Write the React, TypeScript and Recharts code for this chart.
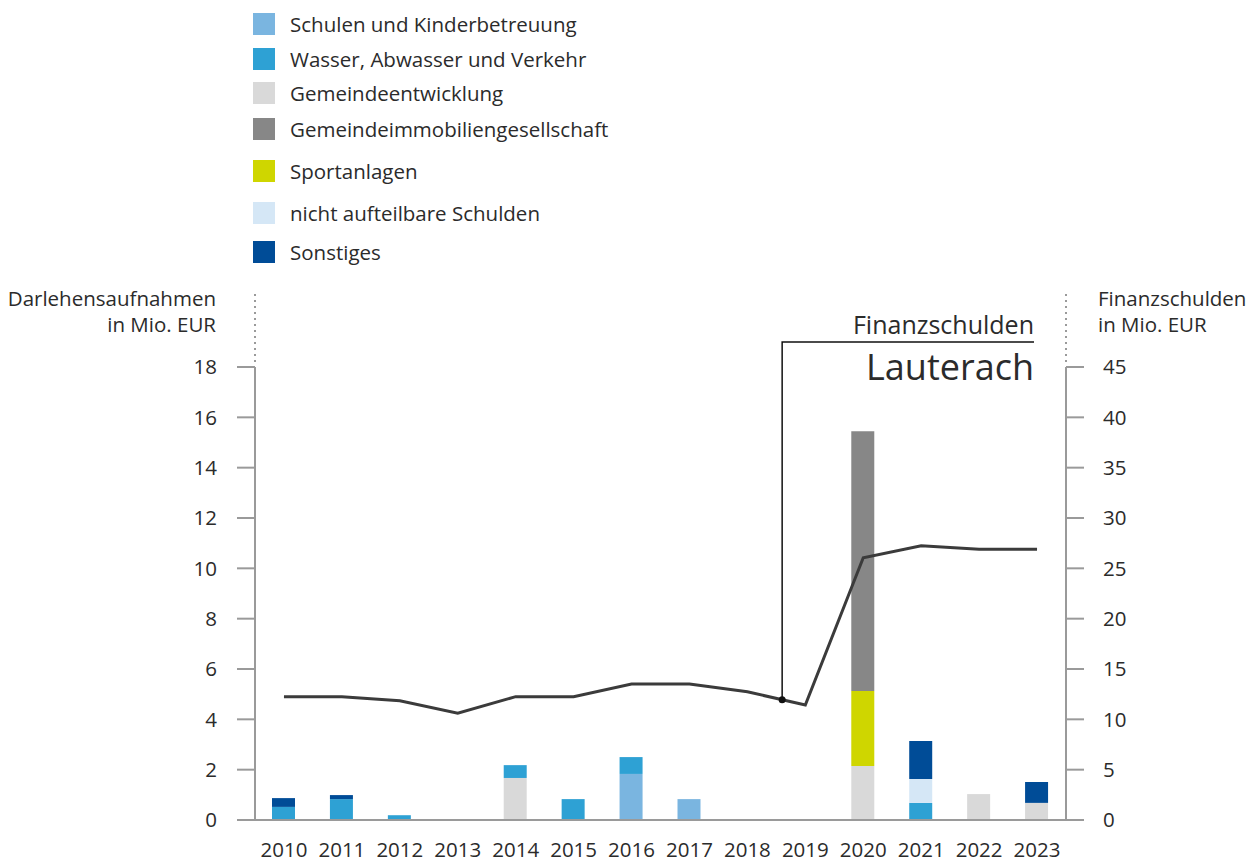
import React from 'react'
import { ComposedChart, Bar, Line, XAxis, YAxis } from 'recharts'

const years = ['2010', '2011', '2012', '2013', '2014', '2015', '2016', '2017', '2018', '2019', '2020', '2021', '2022', '2023']

const schulen = [0, 0, 0, 0, 0, 0, 1.83, 0.83, 0, 0, 0, 0, 0, 0]
const wasser = [0.52, 0.83, 0.19, 0, 0.51, 0.83, 0.67, 0, 0, 0, 0, 0.68, 0, 0]
const gemeindeentwicklung = [0, 0, 0, 0, 1.67, 0, 0, 0, 0, 0, 2.15, 0, 1.03, 0.68]
const immobilien = [0, 0, 0, 0, 0, 0, 0, 0, 0, 0, 10.32, 0, 0, 0]
const sport = [0, 0, 0, 0, 0, 0, 0, 0, 0, 0, 2.98, 0, 0, 0]
const nichtAufteilbar = [0, 0, 0, 0, 0, 0, 0, 0, 0, 0, 0, 0.95, 0, 0]
const sonstiges = [0.35, 0.16, 0, 0, 0, 0, 0, 0, 0, 0, 0, 1.51, 0, 0.83]
const finanzschulden = [12.25, 12.25, 11.85, 10.6, 12.25, 12.25, 13.5, 13.5, 12.74, 11.42, 26.05, 27.25, 26.9, 26.9]

const leftTicks = [0, 2, 4, 6, 8, 10, 12, 14, 16, 18]
const rightTicks = [0, 5, 10, 15, 20, 25, 30, 35, 40, 45]

// legend order
const series = [
  { key: 'schulen', name: 'Schulen und Kinderbetreuung', color: '#7ab5e0', values: schulen },
  { key: 'wasser', name: 'Wasser, Abwasser und Verkehr', color: '#2ea1d4', values: wasser },
  { key: 'gemeindeentwicklung', name: 'Gemeindeentwicklung', color: '#d9d9d9', values: gemeindeentwicklung },
  { key: 'immobilien', name: 'Gemeindeimmobiliengesellschaft', color: '#878787', values: immobilien },
  { key: 'sport', name: 'Sportanlagen', color: '#cfd600', values: sport },
  { key: 'nicht', name: 'nicht aufteilbare Schulden', color: '#d5e7f6', values: nichtAufteilbar },
  { key: 'sonstiges', name: 'Sonstiges', color: '#004c97', values: sonstiges },
]
// stacking order, bottom to top
const stackOrder = ['gemeindeentwicklung', 'schulen', 'wasser', 'sport', 'immobilien', 'nicht', 'sonstiges']
const legendTops = [13, 48, 82, 118, 160, 202, 241]

const data = years.map((year, i) => {
  const row: Record<string, number | string> = { year, schulden: finanzschulden[i] }
  series.forEach((s) => { row[s.key] = s.values[i] })
  return row
})

const font = '"Open Sans", sans-serif'
const textColor = '#2b2b2b'
const axisColor = '#9a9a9a'
const fs = 20.5

// plot geometry
const W = 1255
const H = 864
const plotLeft = 255
const plotRight = 1066
const plotTop = 367
const plotBottom = 820
const band = (plotRight - plotLeft) / years.length

// callout anchor, between 2018 and 2019 on the line
const calloutIdx = 8
const calloutFrac = 0.6
const calloutX = plotLeft + band * (calloutIdx + 0.5 + calloutFrac)
const calloutVal = finanzschulden[calloutIdx] + calloutFrac * (finanzschulden[calloutIdx + 1] - finanzschulden[calloutIdx])
const calloutY = plotBottom - (calloutVal / 45) * (plotBottom - plotTop)

const tickStyle = { fill: textColor, fontSize: fs, fontFamily: font }

export default function App() {
  return (
    <div style={{ position: 'absolute', left: 0, top: 0, width: W, height: H, background: '#fff' }}>
      <ComposedChart
        width={W}
        height={H}
        data={data}
        margin={{ top: plotTop, right: 0, bottom: 0, left: 0 }}
        barSize={23}
      >
        <XAxis
          dataKey="year"
          tick={tickStyle}
          tickLine={false}
          axisLine={{ stroke: axisColor, strokeWidth: 2 }}
          tickMargin={16}
          height={H - plotBottom}
          interval={0}
        />
        <YAxis
          yAxisId="left"
          domain={[0, 18]}
          ticks={leftTicks}
          width={plotLeft}
          tick={tickStyle}
          tickSize={18}
          tickMargin={20}
          tickLine={{ stroke: axisColor, strokeWidth: 2 }}
          axisLine={{ stroke: axisColor, strokeWidth: 2 }}
          interval={0}
        />
        <YAxis
          yAxisId="right"
          orientation="right"
          domain={[0, 45]}
          ticks={rightTicks}
          width={W - plotRight}
          tick={{ ...tickStyle, textAnchor: 'start' }}
          tickSize={18}
          tickMargin={19}
          tickLine={{ stroke: axisColor, strokeWidth: 2 }}
          axisLine={{ stroke: axisColor, strokeWidth: 2 }}
          interval={0}
        />
        {stackOrder.map((key) => {
          const s = series.find((x) => x.key === key)!
          return <Bar key={key} dataKey={key} name={s.name} stackId="a" yAxisId="left" fill={s.color} isAnimationActive={false} />
        })}
        <Line
          dataKey="schulden"
          yAxisId="right"
          type="linear"
          stroke="#3b3b3b"
          strokeWidth={3}
          dot={false}
          activeDot={false}
          isAnimationActive={false}
        />
      </ComposedChart>

      <svg
        width={W}
        height={H}
        style={{ position: 'absolute', left: 0, top: 0, pointerEvents: 'none' }}
        fontFamily={font}
      >
        {/* legend */}
        {series.map((s, i) => (
          <g key={s.key}>
            <rect x={253} y={legendTops[i]} width={22} height={22} fill={s.color} />
            <text x={290} y={legendTops[i] + 11} dominantBaseline="central" fontSize={fs} fill={textColor}>
              {s.name}
            </text>
          </g>
        ))}

        {/* axis titles */}
        <text x={216} y={306} textAnchor="end" fontSize={fs} fill={textColor}>Darlehensaufnahmen</text>
        <text x={216} y={332} textAnchor="end" fontSize={fs} fill={textColor}>in Mio. EUR</text>
        <text x={1098} y={306} fontSize={fs} fill={textColor}>Finanzschulden</text>
        <text x={1098} y={332} fontSize={fs} fill={textColor}>in Mio. EUR</text>
        <line x1={plotLeft} x2={plotLeft} y1={294} y2={362} stroke={axisColor} strokeWidth={2} strokeDasharray="2 4" />
        <line x1={plotRight} x2={plotRight} y1={294} y2={362} stroke={axisColor} strokeWidth={2} strokeDasharray="2 4" />

        {/* callout */}
        <text x={1034} y={334} textAnchor="end" fontSize={25} fill={textColor}>Finanzschulden</text>
        <text x={1034} y={380} textAnchor="end" fontSize={36} fill={textColor}>Lauterach</text>
        <polyline
          points={`${calloutX},${calloutY} ${calloutX},342 1034,342`}
          fill="none"
          stroke="#111"
          strokeWidth={1.5}
        />
        <circle cx={calloutX} cy={calloutY} r={3.5} fill="#111" />
      </svg>
    </div>
  )
}
